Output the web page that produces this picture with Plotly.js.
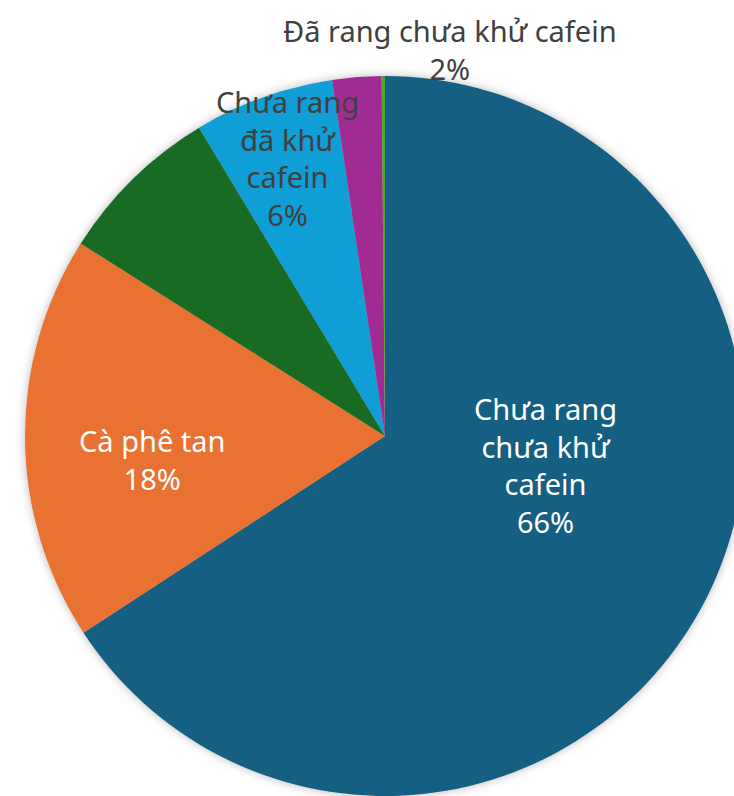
<!DOCTYPE html>
<html>
<head>
<meta charset="utf-8">
<script src="https://cdn.plot.ly/plotly-3.0.1.min.js"></script>
<style>
  html, body { margin: 0; padding: 0; overflow: hidden; background: #ffffff; }
  #chart { width: 760px; height: 820px; }
  .pielayer { filter: drop-shadow(0px 0px 5px rgba(0,0,0,0.28)); }
</style>
</head>
<body>
<div id="chart"></div>
<script>
// ---- Data ----
const categories = [
  "Chưa rang chưa khử cafein",
  "Cà phê tan",
  "Khác",
  "Chưa rang đã khử cafein",
  "Đã rang chưa khử cafein",
  "Đã rang đã khử cafein"
];
const shares = [65.9, 18.2, 7.4, 6.3, 2.2, 0.15];
const displayLabels = [
  "Chưa rang<br>chưa khử<br>cafein",
  "Cà phê tan",
  "",
  "Chưa rang<br>đã khử<br>cafein",
  "Đã rang chưa khử cafein",
  ""
];
const sliceColors = ["#156082", "#E97132", "#196B24", "#0F9ED5", "#A02B93", "#4EA72E"];
const labelColors = ["#ffffff", "#ffffff", null, "#404040", "#404040", null];

// ---- Layout helpers (pixel -> paper) ----
const W = 760, H = 820;
const cx = 385, cy = 436, R = 360;
const px = x => x / W;
const py = y => 1 - y / H;

// label anchor points (pixel centres of each text block)
const labelPos = [
  [545, 465],
  [152, 459],
  null,
  [287, 158],
  [450, 49],
  null
];

const total = shares.reduce((a, b) => a + b, 0);
const annotations = [];
categories.forEach((c, i) => {
  if (!displayLabels[i] || !labelPos[i]) return;
  const pct = Math.round(shares[i] / total * 100);
  annotations.push({
    xref: 'paper', yref: 'paper',
    x: px(labelPos[i][0]), y: py(labelPos[i][1]),
    xanchor: 'center', yanchor: 'middle',
    text: displayLabels[i] + '<br>' + pct + '%',
    showarrow: false,
    align: 'center',
    font: { family: 'Noto Sans, DejaVu Sans, sans-serif', size: 29, color: labelColors[i] }
  });
});

const trace = {
  type: 'pie',
  labels: categories,
  values: shares,
  sort: false,
  direction: 'clockwise',
  rotation: 0,
  textinfo: 'none',
  hoverinfo: 'label+percent',
  marker: { colors: sliceColors, line: { width: 0 } },
  domain: { x: [px(cx - R), px(cx + R)], y: [py(cy + R), py(cy - R)] },
  showlegend: false
};

const layout = {
  width: W, height: H,
  margin: { l: 0, r: 0, t: 0, b: 0 },
  paper_bgcolor: '#ffffff',
  showlegend: false,
  annotations: annotations
};

Plotly.newPlot('chart', [trace], layout, { displayModeBar: false, staticPlot: true });
</script>
</body>
</html>
